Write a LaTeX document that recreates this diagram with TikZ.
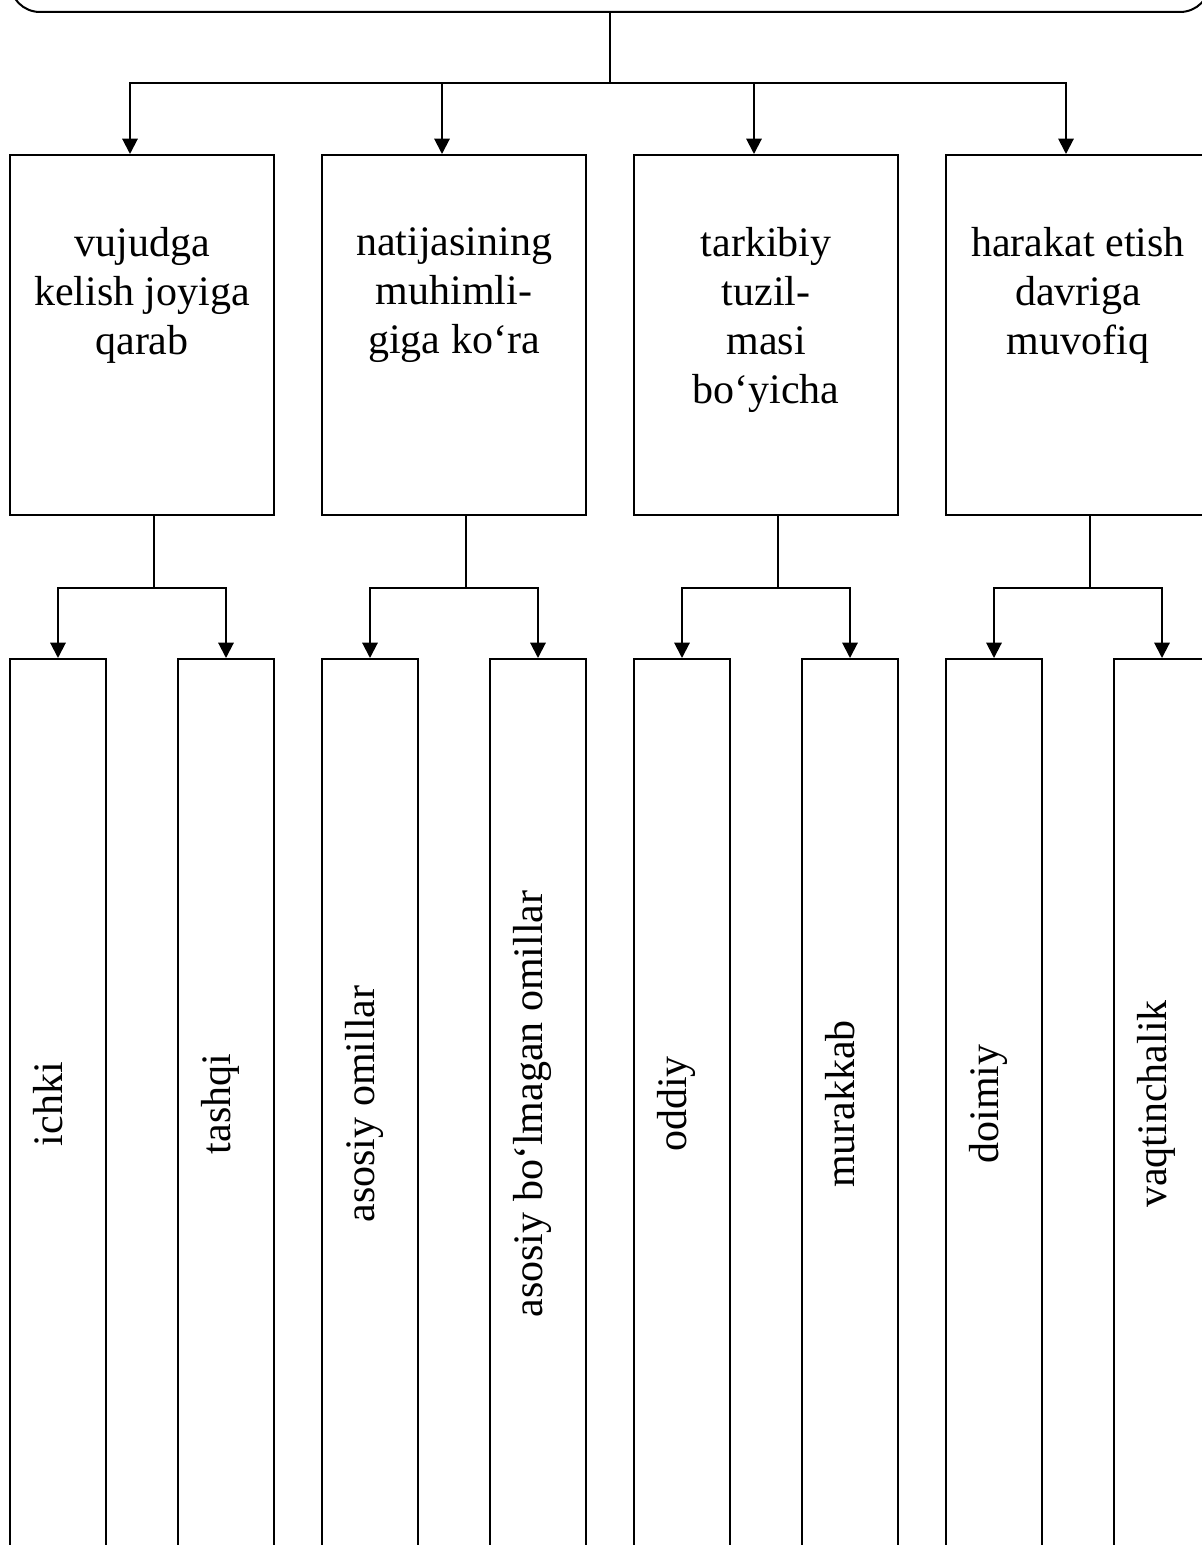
\documentclass[tikz,border=0pt]{standalone}
\usepackage{fontspec}
\setmainfont{Liberation Serif}
\usetikzlibrary{arrows.meta}
\begin{document}
\begin{tikzpicture}[x=0.75pt,y=-0.75pt,line width=1.5pt,
  arr/.style={-{Triangle[width=11.5pt,length=11.5pt]}},
  topbox/.style={draw,rounded corners=22.5pt,minimum width=900pt,minimum height=75pt,inner sep=0pt},
  catbox/.style={draw,minimum width=198pt,minimum height=270pt,inner sep=0pt},
  leafbox/.style={draw,minimum width=72pt,minimum height=667.5pt,inner sep=0pt},
  cattext/.style={align=center,inner sep=0pt,font=\fontsize{31.5pt}{36.75pt}\selectfont},
  leaftext/.style={rotate=90,inner sep=0pt,text height=0.891em,text depth=0.216em,font=\fontsize{31.5pt}{36.75pt}\selectfont}]
\useasboundingbox (0,0) rectangle (1202,1545);
\clip (0,0) rectangle (1202,1545);
% top box
\node[topbox] (top) at (610,-38) {};
% category boxes
\node[catbox] (b1) at (142,335) {};
\node[catbox] (b2) at (454,335) {};
\node[catbox] (b3) at (766,335) {};
\node[catbox] (b4) at (1078,335) {};
\node[cattext,anchor=north] (t1) at (142,226.5) {vujudga\\kelish joyiga\\qarab};
\node[cattext,anchor=north] (t2) at (454,226.5) {natijasining\\muhimli-\\giga ko‘ra};
\node[cattext,anchor=north] (t3) at (766,226.5) {tarkibiy\\tuzil-\\masi\\bo‘yicha};
\node[cattext,anchor=north] (t4) at (1078,226.5) {harakat etish\\davriga\\muvofiq};
% leaf boxes
\node[leafbox] (c1) at (58,1104) {};
\node[leafbox] (c2) at (226,1104) {};
\node[leafbox] (c3) at (370,1104) {};
\node[leafbox] (c4) at (538,1104) {};
\node[leafbox] (c5) at (682,1104) {};
\node[leafbox] (c6) at (850,1104) {};
\node[leafbox] (c7) at (994,1104) {};
\node[leafbox] (c8) at (1162,1104) {};
\node[leaftext] (l1) at (c1.center) {ichki};
\node[leaftext] (l2) at (c2.center) {tashqi};
\node[leaftext] (l3) at (c3.center) {asosiy omillar};
\node[leaftext] (l4) at (c4.center) {asosiy bo‘lmagan omillar};
\node[leaftext] (l5) at (c5.center) {oddiy};
\node[leaftext] (l6) at (c6.center) {murakkab};
\node[leaftext] (l7) at (c7.center) {doimiy};
\node[leaftext] (l8) at (c8.center) {vaqtinchalik};
% connectors top -> categories
\coordinate (j0) at (610,83);
\draw (top.south) -- (j0);
\draw[arr] (j0) -| ([xshift=-9pt]b1.north);
\draw[arr] (j0) -| ([xshift=-9pt]b2.north);
\draw[arr] (j0) -| ([xshift=-9pt]b3.north);
\draw[arr] (j0) -| ([xshift=-9pt]b4.north);
% connectors categories -> leaves
\draw ([xshift=9pt]b1.south) -- ++(0,72) coordinate (s1);
\draw[arr] (s1) -| (c1.north);
\draw[arr] (s1) -| (c2.north);
\draw ([xshift=9pt]b2.south) -- ++(0,72) coordinate (s2);
\draw[arr] (s2) -| (c3.north);
\draw[arr] (s2) -| (c4.north);
\draw ([xshift=9pt]b3.south) -- ++(0,72) coordinate (s3);
\draw[arr] (s3) -| (c5.north);
\draw[arr] (s3) -| (c6.north);
\draw ([xshift=9pt]b4.south) -- ++(0,72) coordinate (s4);
\draw[arr] (s4) -| (c7.north);
\draw[arr] (s4) -| (c8.north);
\end{tikzpicture}
\end{document}
